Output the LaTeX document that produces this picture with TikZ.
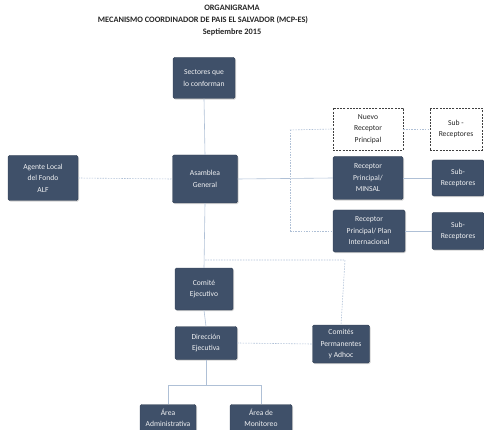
\documentclass[tikz,border=0pt]{standalone}
\usepackage{fontspec}
\setmainfont{Carlito}
\usetikzlibrary{shadows}
\definecolor{boxfill}{HTML}{3F5069}
\definecolor{linec}{HTML}{AFC0D6}
\tikzset{
  x=1pt,y=-1pt,
  orgbox/.style={draw=boxfill!80!black, fill=boxfill, rounded corners=1.5pt, text=white!92!boxfill,
     font=\fontsize{7.6}{11.5}\selectfont, align=center, inner sep=1pt,
     drop shadow={shadow xshift=1pt,shadow yshift=-1.2pt,opacity=0.35}},
  dashbox/.style={draw=black!75, dash pattern=on 2pt off 1.2pt, line width=0.6pt, fill=white, text=black!85,
     font=\fontsize{7.6}{11.5}\selectfont, align=center, inner sep=1pt},
  conn/.style={draw=linec, line width=0.6pt},
  dconn/.style={draw=linec, line width=0.6pt, dash pattern=on 1.5pt off 1.2pt},
  ttl/.style={font=\fontsize{8.3}{9}\selectfont\bfseries, text=black!85}
}
\begin{document}
\begin{tikzpicture}
\useasboundingbox (0,0) rectangle (484,430);
\node[ttl] (t1) at (232,8) {ORGANIGRAMA};
\node[ttl] (t2) at (203,20) {MECANISMO COORDINADOR DE PAIS EL SALVADOR (MCP-ES)};
\node[ttl] (t3) at (232,32) {Septiembre 2015};

\node[orgbox, minimum width=62, minimum height=41] (sec) at (204,78) {Sectores que\\lo conforman};
\node[orgbox, minimum width=70, minimum height=45] (alf) at (43,178) {Agente Local\\del Fondo\\ALF};
\node[orgbox, minimum width=65, minimum height=48] (asam) at (205,179) {Asamblea\\General};
\node[dashbox, minimum width=70, minimum height=42] (nrp) at (368,129) {Nuevo\\Receptor\\Principal};
\node[dashbox, minimum width=52, minimum height=42] (sr0) at (456,129) {Sub -\\Receptores};
\node[orgbox, minimum width=70, minimum height=43] (rpm) at (368,178) {Receptor\\Principal/\\MINSAL};
\node[orgbox, minimum width=52, minimum height=36] (sr1) at (458,178) {Sub-\\Receptores};
\node[orgbox, minimum width=72, minimum height=42] (rpp) at (369,231) {Receptor\\Principal/ Plan\\Internacional};
\node[orgbox, minimum width=52, minimum height=37] (sr2) at (458,231) {Sub-\\Receptores};
\node[orgbox, minimum width=58, minimum height=42] (ce) at (204,289) {Comité\\Ejecutivo};
\node[orgbox, minimum width=62, minimum height=33] (de) at (206,343) {Dirección\\Ejecutiva};
\node[orgbox, minimum width=57, minimum height=38] (cp) at (341,344) {Comités\\Permanentes\\y Adhoc};
\node[orgbox, minimum width=56, minimum height=27] (aa) at (168,418) {Área\\Administrativa};
\node[orgbox, minimum width=62, minimum height=27] (am) at (261,418) {Área de\\Monitoreo};

\coordinate (vtop) at (290,130);
\coordinate (vbot) at (290,231);
\coordinate (jce) at (205,260);
\coordinate (jcp) at (345,260);
\coordinate (jd) at (206,385);
\coordinate (ja) at (168,385);
\coordinate (jm) at (261,385);

\draw[conn] (sec.south) -- (asam.north);
\draw[conn] (asam.south) -- (ce.north);
\draw[conn] (ce.south) -- (de.north);
\draw[dconn] (alf.east) -- (asam.west);
\draw[conn] (asam.east) -- (rpm.west);
\draw[dconn] (vtop) -- (vbot);
\draw[dconn] (vtop) -- (nrp.west);
\draw[dconn] (vbot) -- (rpp.west);
\draw[dconn] (nrp.east) -- (sr0.west);
\draw[conn] (rpm.east) -- (sr1.west);
\draw[conn] (rpp.east) -- (sr2.west);
\draw[dconn] (jce) -- (jcp) -- (cp.north);
\draw[dconn] (de.east) -- (cp.west);
\draw[conn] (de.south) -- (jd);
\draw[conn] (ja) -- (jm);
\draw[conn] (ja) -- (aa.north);
\draw[conn] (jm) -- (am.north);
\end{tikzpicture}
\end{document}
